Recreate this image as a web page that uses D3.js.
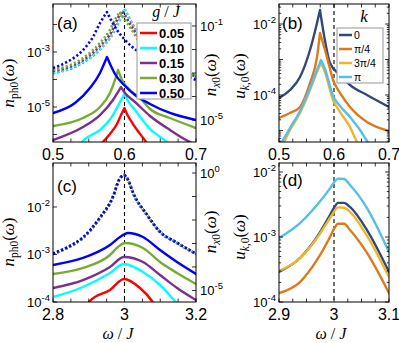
<!DOCTYPE html>
<meta charset="utf-8">
<style>
body { margin: 0; background: #fff; }
svg text { font-family: Arial, "Liberation Sans", Helvetica, sans-serif; fill: #000; }
svg text.tex { font-family: "Liberation Serif", "Times New Roman", serif; }
</style>
<body>
<svg width="399" height="343"></svg>
<script src="https://d3js.org/d3.v7.min.js"></script>
<script>
// ---------- values: [omega/J, value] ----------
var gLabels = ["0.05", "0.10", "0.15", "0.30", "0.50"];
var gColors = ["#ff0000", "#00ffff", "#7e2f8e", "#77ac30", "#0000ff"];
var kLabels = ["0", "\u03c0/4", "3\u03c0/4", "\u03c0"];
var kColors = ["#34497a", "#dc7a1c", "#efb52c", "#56bdec"];

// (a) photon, left axis
var phA005 = [[0.5657,4.2e-7],[0.5699,5.4e-7],[0.5797,1.05e-6],[0.5895,2.4e-6],[0.5951,5.1e-6],[0.6,9.1e-6],[0.6035,5.6e-6],[0.6119,2.4e-6],[0.6217,1.05e-6],[0.6301,5.4e-7],[0.6343,3.8e-7]];
var phA010 = [[0.5378,4.2e-7],[0.5406,5.3e-7],[0.5657,1.46e-6],[0.5839,5.1e-6],[0.5923,1.29e-5],[0.6,2.97e-5],[0.6049,1.65e-5],[0.6147,7.8e-6],[0.6357,1.58e-6],[0.6594,5.3e-7],[0.6636,4.2e-7]];
var phA015 = [[0.5,6.3e-7],[0.542,1.87e-6],[0.5657,5.1e-6],[0.5839,1.8e-5],[0.5909,3.5e-5],[0.5951,5.3e-5],[0.6007,3.2e-5],[0.6147,1.52e-5],[0.6357,4.7e-6],[0.6636,1.46e-6],[0.6916,5.3e-7],[0.7,4.2e-7]];
var phA030 = [[0.5,2.04e-6],[0.542,3.98e-6],[0.5657,1.0e-5],[0.5797,3.23e-5],[0.5867,9.6e-5],[0.5909,2.21e-4],[0.5965,9.6e-5],[0.6077,4.15e-5],[0.6217,2.12e-5],[0.6357,8.45e-6],[0.6636,3.98e-6],[0.7,1.72e-6]];
var phA050 = [[0.5,6.05e-6],[0.5308,1.4e-5],[0.5517,4.91e-5],[0.5657,1.72e-4],[0.5713,3.66e-4],[0.5755,6.58e-4],[0.5811,3.1e-4],[0.5867,1.58e-4],[0.6007,5.81e-5],[0.6147,2.73e-5],[0.6357,1.29e-5],[0.6636,6.05e-6],[0.7,3.37e-6]];
// (a) exciton, right axis (dotted)
var xA005 = [[0.5,9.8e-4],[0.5378,2.38e-3],[0.5657,1.03e-2],[0.5839,4.95e-2],[0.5937,0.197],[0.6,0.53],[0.6056,0.24],[0.6126,0.099],[0.6266,2.07e-2],[0.6503,5.2e-3],[0.6783,1.78e-3],[0.7,7.4e-4]];
var xA010 = [[0.5,1.0e-3],[0.5378,2.41e-3],[0.5657,1.05e-2],[0.5839,5.03e-2],[0.5937,0.199],[0.6,0.528],[0.6056,0.242],[0.6126,0.1],[0.6266,2.09e-2],[0.6503,5.28e-3],[0.6783,1.8e-3],[0.7,7.45e-4]];
var xA015 = [[0.5,1.22e-3],[0.5378,2.94e-3],[0.5657,1.41e-2],[0.5825,6.12e-2],[0.5909,0.219],[0.5965,0.435],[0.6035,0.199],[0.6105,9.06e-2],[0.6245,1.89e-2],[0.6497,4.8e-3],[0.6776,1.63e-3],[0.7,6.76e-4]];
var xA030 = [[0.5,1.34e-3],[0.5378,3.57e-3],[0.5657,1.89e-2],[0.5797,6.76e-2],[0.5881,0.219],[0.5937,0.394],[0.6007,0.18],[0.6077,9.06e-2],[0.6217,1.89e-2],[0.6497,4.35e-3],[0.6776,1.63e-3],[0.7,6.76e-4]];
var xA050 = [[0.5,1.63e-3],[0.5196,2.94e-3],[0.542,9.5e-3],[0.5559,3.4e-2],[0.5657,0.134],[0.5755,0.394],[0.5867,9.06e-2],[0.6007,2.54e-2],[0.6217,7.1e-3],[0.6497,2.19e-3],[0.6776,1.0e-3],[0.7,5.04e-4]];

// (b)
var uB0 = [[0.5,8.2e-5],[0.52,1.38e-4],[0.5382,3.21e-4],[0.5564,1.85e-3],[0.5691,1.07e-2],[0.5745,2.48e-2],[0.5818,4.9e-3],[0.5927,7.96e-4],[0.6109,3.66e-4],[0.6291,1.91e-4],[0.66,1.0e-4],[0.7,4.59e-5]];
var uB1 = [[0.5,2.25e-5],[0.52,3.11e-5],[0.5382,4.59e-5],[0.5564,2.18e-4],[0.5691,1.17e-3],[0.5745,5.57e-3],[0.5873,1.17e-3],[0.5982,2.65e-4],[0.6109,1.14e-4],[0.6291,4.59e-5],[0.66,1.73e-5],[0.7,9.68e-6]];
var uB2 = [[0.5,2.83e-6],[0.5091,4.74e-6],[0.52,1.03e-5],[0.5382,3.11e-5],[0.5564,1.38e-4],[0.5691,4.45e-4],[0.5764,7.96e-4],[0.5836,4.45e-4],[0.5982,7.23e-5],[0.6109,3.32e-5],[0.6291,1.26e-5],[0.6418,4.74e-6],[0.6473,3.43e-6]];
var uB3 = [[0.5,3.43e-6],[0.52,1.17e-5],[0.5382,3.54e-5],[0.5564,1.57e-4],[0.5691,5.06e-4],[0.5764,9.68e-4],[0.5836,5.4e-4],[0.5982,9.37e-5],[0.6109,4.9e-5],[0.6291,2.4e-5],[0.6473,1.03e-5],[0.66,5.06e-6],[0.6691,3.21e-6]];

// (c) photon, left axis
var phC005 = [[2.8979,9.08e-5],[2.9035,1.05e-4],[2.9594,1.79e-4],[2.9986,3.05e-4],[3.0434,1.97e-4],[3.0769,1.05e-4],[3.0825,9.08e-5]];
var phC010 = [[2.8,1.27e-4],[2.8839,2.07e-4],[2.9594,4.08e-4],[2.9986,6.31e-4],[3.0517,4.28e-4],[3.0993,2.28e-4],[3.1413,1.05e-4],[3.1497,9.08e-5]];
var phC015 = [[2.8,1.97e-4],[2.8839,2.9e-4],[2.9594,5.46e-4],[2.9986,8.85e-4],[3.0517,6.95e-4],[3.0993,3.7e-4],[3.1469,1.97e-4],[3.2,1.1e-4]];
var phC030 = [[2.8,3.88e-4],[2.8839,5.2e-4],[2.9594,9.75e-4],[2.9818,1.44e-3],[3.0014,1.75e-3],[3.0517,1.37e-3],[3.0993,6.95e-4],[3.1469,4.08e-4],[3.2,2.39e-4]];
var phC050 = [[2.8,6.01e-4],[2.8839,8.44e-4],[2.9594,1.58e-3],[2.9874,2.33e-3],[3.0098,2.84e-3],[3.0517,2.33e-3],[3.0993,1.24e-3],[3.1469,6.95e-4],[3.2,3.88e-4]];
// (c) exciton, right axis (dotted, nearly identical for all g)
var xC005 = [[2.8,3.57e-4],[2.8392,6.44e-4],[2.8839,1.71e-3],[2.9315,1.22e-2],[2.9678,9.52e-2],[2.9846,0.504],[2.9986,0.822],[3.0098,0.504],[3.0238,0.141],[3.0629,1.63e-2],[3.0993,3.09e-3],[3.1469,1.05e-3],[3.2,3.57e-4]];
var xC010 = xC005;
var xC015 = [[2.8,3.6e-4],[2.8392,6.5e-4],[2.8839,1.73e-3],[2.9315,1.23e-2],[2.9678,9.6e-2],[2.9846,0.5],[2.9986,0.81],[3.0098,0.51],[3.0238,0.143],[3.0629,1.65e-2],[3.0993,3.1e-3],[3.1469,1.06e-3],[3.2,3.6e-4]];
var xC030 = xC015;
var xC050 = [[2.8,3.8e-4],[2.8392,6.9e-4],[2.8839,1.85e-3],[2.9315,1.3e-2],[2.9678,0.1],[2.9846,0.5],[2.9986,0.8],[3.0098,0.52],[3.0238,0.15],[3.0629,1.7e-2],[3.0993,3.2e-3],[3.1469,1.08e-3],[3.2,3.7e-4]];

// (d)
var uD0 = [[2.9,2.9e-4],[2.9382,4.75e-4],[2.9691,1.0e-3],[2.9927,2.18e-3],[3.0,2.8e-3],[3.0073,3.35e-3],[3.0182,3.35e-3],[3.0291,2.9e-3],[3.06,1.28e-3],[3.1,2.9e-4]];
var uD1 = [[2.9,1.37e-4],[2.9382,2.03e-4],[2.9691,4.43e-4],[2.9927,1.0e-3],[3.0,1.33e-3],[3.0073,1.6e-3],[3.0182,1.6e-3],[3.0291,1.28e-3],[3.06,5.68e-4],[3.1,1.37e-4]];
var uD2 = [[2.9,3.0e-4],[2.9382,4.75e-4],[2.9691,9.66e-4],[2.9927,1.96e-3],[3.0,2.45e-3],[3.0073,2.85e-3],[3.0182,2.82e-3],[3.0291,2.43e-3],[3.06,1.04e-3],[3.1,2.42e-4]];
var uD3 = [[2.9,9.66e-4],[2.9382,1.64e-3],[2.9691,3.11e-3],[2.9927,5.6e-3],[3.0,6.9e-3],[3.0073,7.9e-3],[3.0182,7.8e-3],[3.0291,6.31e-3],[3.06,2.79e-3],[3.1,5.88e-4]];

var phA = [phA005, phA010, phA015, phA030, phA050];
var xA = [xA005, xA010, xA015, xA030, xA050];
var phC = [phC005, phC010, phC015, phC030, phC050];
var xC = [xC005, xC010, xC015, xC030, xC050];
var uB = [uB0, uB1, uB2, uB3];
var uD = [uD0, uD1, uD2, uD3];

// ---------- drawing ----------
var svg = d3.select("svg");

function makePanel(id, box, xd, yd) {
  var x = d3.scaleLinear().domain(xd).range([box.x0, box.x1]);
  var y = d3.scaleLog().domain(yd).range([box.y1, box.y0]);
  svg.append("clipPath").attr("id", "clip-" + id).append("rect")
    .attr("x", box.x0).attr("y", box.y0)
    .attr("width", box.x1 - box.x0).attr("height", box.y1 - box.y0);
  var plot = svg.append("g").attr("clip-path", "url(#clip-" + id + ")");
  return { id: id, x: x, y: y, box: box, plot: plot };
}

function pathD(P, y, data, cusp) {
  var gen = d3.line()
    .x(function(d) { return P.x(d[0]); })
    .y(function(d) { return y(d[1]); })
    .curve(d3.curveMonotoneX);
  if (!cusp) return gen(data);
  var i = d3.maxIndex(data, function(d) { return d[1]; });
  return gen(data.slice(0, i + 1)) + gen(data.slice(i)).replace(/^M/, "L");
}

function curve(P, y, data, color, cusp, dotted) {
  var p = P.plot.append("path")
    .attr("d", pathD(P, y, data, cusp))
    .attr("fill", "none")
    .attr("stroke", color)
    .attr("stroke-width", dotted ? 2.6 : 2.4)
    .attr("stroke-linejoin", "round");
  if (dotted) p.attr("stroke-dasharray", "2.2,2.2");
  else p.attr("stroke-linecap", "round");
}

function dashLine(P, v) {
  P.plot.append("line")
    .attr("x1", P.x(v)).attr("x2", P.x(v))
    .attr("y1", P.box.y0).attr("y2", P.box.y1)
    .attr("stroke", "#000").attr("stroke-width", 1.1)
    .attr("stroke-dasharray", "4,3");
}

function tick(x1, y1, x2, y2) {
  svg.append("line").attr("x1", x1).attr("y1", y1).attr("x2", x2).attr("y2", y2)
    .attr("stroke", "#000").attr("stroke-width", 0.8);
}

function powLabel(px, py, e, anchor) {
  var t = svg.append("text").attr("x", px).attr("y", py)
    .attr("text-anchor", anchor).style("font-size", "13px");
  t.append("tspan").text("10");
  t.append("tspan").attr("dy", -6).style("font-size", "9.5px")
    .text(e === 0 ? "0" : "-" + (-e));
}

function frame(P, xTicks, xLabels) {
  var b = P.box;
  svg.append("rect").attr("x", b.x0).attr("y", b.y0)
    .attr("width", b.x1 - b.x0).attr("height", b.y1 - b.y0)
    .attr("fill", "none").attr("stroke", "#000").attr("stroke-width", 1);
  xTicks.forEach(function(v) {
    var px = P.x(v);
    tick(px, b.y1, px, b.y1 - 3.5);
    tick(px, b.y0, px, b.y0 + 3.5);
  });
  xLabels.forEach(function(l) {
    svg.append("text").attr("x", P.x(l[0])).attr("y", b.y1 + 18)
      .attr("text-anchor", "middle").style("font-size", "16px").text(l[1]);
  });
}

function logTicks(P, y, side, minor, labels) {
  var b = P.box, d = y.domain();
  var lo = Math.floor(Math.log10(d[0])), hi = Math.ceil(Math.log10(d[1]));
  var xs = side === "left" ? [b.x0] : side === "right" ? [b.x1] : [b.x0, b.x1];
  for (var e = lo; e <= hi; e++) {
    var ms = minor ? [1, 2, 3, 4, 5, 6, 7, 8, 9] : [1];
    ms.forEach(function(m) {
      var v = m * Math.pow(10, e);
      if (v < d[0] * 0.999 || v > d[1] * 1.001) return;
      var len = m === 1 ? 4 : 2.2, py = y(v);
      xs.forEach(function(ex) {
        var dir = ex === b.x0 ? 1 : -1;
        tick(ex, py, ex + dir * len, py);
      });
    });
  }
  labels.forEach(function(e) {
    var py = y(Math.pow(10, e)) + 5;
    if (side === "right") powLabel(b.x1 + 4, py, e, "start");
    else powLabel(b.x0 - 3, py, e, "end");
  });
}

function texTitle(cx, cy, sym, sub, rotate) {
  var t = svg.append("text").attr("class", "tex")
    .attr("transform", "translate(" + cx + "," + cy + ")" + (rotate ? " rotate(-90)" : ""))
    .attr("text-anchor", "middle").style("font-size", "17px");
  t.append("tspan").style("font-style", "italic").text(sym);
  sub.forEach(function(s, i) {
    var ts = t.append("tspan").style("font-size", "11.5px").text(s[0]);
    if (i === 0) ts.attr("dy", 4);
    if (s[1]) ts.style("font-style", "italic");
  });
  t.append("tspan").attr("dy", -4).text("(");
  t.append("tspan").style("font-style", "italic").text("\u03c9");
  t.append("tspan").text(")");
}

function omegaLabel(cx, cy) {
  var t = svg.append("text").attr("class", "tex").attr("x", cx).attr("y", cy)
    .attr("text-anchor", "middle").style("font-size", "16px");
  t.append("tspan").style("font-style", "italic").text("\u03c9");
  t.append("tspan").text(" / ");
  t.append("tspan").style("font-style", "italic").text("J");
}

function panelLabel(px, py, s) {
  svg.append("text").attr("x", px).attr("y", py).style("font-size", "17px").text(s);
}

// ----- panel (a)
var A = makePanel("a", { x0: 53, x1: 196, y0: 4, y1: 142 }, [0.5, 0.7], [5.33e-7, 0.0556]);
var yAr = d3.scaleLog().domain([1.16e-6, 0.863]).range([142, 4]);
dashLine(A, 0.6);
xA.forEach(function(s, i) { curve(A, yAr, s, gColors[i], true, true); });
phA.forEach(function(s, i) { curve(A, A.y, s, gColors[i], true, false); });
frame(A, d3.range(0, 9).map(function(i) { return 0.5 + i * 0.025; }), [[0.5, "0.5"], [0.6, "0.6"], [0.7, "0.7"]]);
logTicks(A, A.y, "left", false, [-3, -5]);
logTicks(A, yAr, "right", false, [-1, -5]);

// ----- panel (b)
var B = makePanel("b", { x0: 279, x1: 389, y0: 4, y1: 142 }, [0.5, 0.7], [4.74e-6, 0.0366]);
dashLine(B, 0.6);
uB.forEach(function(s, i) { curve(B, B.y, s, kColors[i], true, false); });
frame(B, d3.range(0, 9).map(function(i) { return 0.5 + i * 0.025; }), [[0.5, "0.5"], [0.6, "0.6"], [0.7, "0.7"]]);
logTicks(B, B.y, "both", true, [-2, -4]);

// ----- panel (c)
var C = makePanel("c", { x0: 53, x1: 196, y0: 163, y1: 302 }, [2.8, 3.2], [1e-4, 0.0843]);
var yCr = d3.scaleLog().domain([3.24e-6, 2.67]).range([302, 163]);
dashLine(C, 3.0);
xC.forEach(function(s, i) { curve(C, yCr, s, gColors[i], false, true); });
phC.forEach(function(s, i) { curve(C, C.y, s, gColors[i], false, false); });
frame(C, d3.range(0, 9).map(function(i) { return 2.8 + i * 0.05; }), [[2.8, "2.8"], [3.0, "3"], [3.2, "3.2"]]);
logTicks(C, C.y, "left", false, [-2, -3, -4]);
logTicks(C, yCr, "right", false, [0, -5]);

// ----- panel (d)
var D = makePanel("d", { x0: 279, x1: 389, y0: 163, y1: 302 }, [2.9, 3.1], [1e-4, 0.01374]);
dashLine(D, 3.0);
uD.forEach(function(s, i) { curve(D, D.y, s, kColors[i], false, false); });
frame(D, d3.range(0, 9).map(function(i) { return 2.9 + i * 0.025; }), [[2.9, "2.9"], [3.0, "3"], [3.1, "3.1"]]);
logTicks(D, D.y, "both", true, [-2, -3, -4]);

// ----- legends
var legA = svg.append("g");
legA.append("rect").attr("x", 137).attr("y", 23).attr("width", 54).attr("height", 76)
  .attr("fill", "#fff").attr("stroke", "#a8a8a8").attr("stroke-width", 1.2);
gLabels.forEach(function(t, i) {
  var yy = 33 + i * 15;
  legA.append("line").attr("x1", 140).attr("x2", 157).attr("y1", yy).attr("y2", yy)
    .attr("stroke", gColors[i]).attr("stroke-width", 2.5);
  legA.append("text").attr("x", 159).attr("y", yy + 5)
    .style("font-size", "13px").style("font-weight", "bold").text(t);
});
var gt = svg.append("text").attr("class", "tex").attr("x", 166).attr("y", 17)
  .attr("text-anchor", "middle").style("font-size", "16px");
gt.append("tspan").style("font-style", "italic").text("g");
gt.append("tspan").text(" / ");
gt.append("tspan").style("font-style", "italic").text("J");

var legB = svg.append("g");
legB.append("rect").attr("x", 337).attr("y", 28).attr("width", 46).attr("height", 55)
  .attr("fill", "#fff").attr("stroke", "#a8a8a8").attr("stroke-width", 1.2);
kLabels.forEach(function(t, i) {
  var yy = 35 + i * 14;
  legB.append("line").attr("x1", 339).attr("x2", 352).attr("y1", yy).attr("y2", yy)
    .attr("stroke", kColors[i]).attr("stroke-width", 2.5);
  legB.append("text").attr("x", 354).attr("y", yy + 4).style("font-size", "10.5px").text(t);
});
svg.append("text").attr("class", "tex").attr("x", 364).attr("y", 22)
  .attr("text-anchor", "middle").style("font-size", "17px").style("font-style", "italic").text("k");

// ----- titles and panel letters
texTitle(14, 83, "n", [["ph0", false]], true);
texTitle(14, 242, "n", [["ph0", false]], true);
texTitle(216, 75, "n", [["x", true], ["0", false]], true);
texTitle(216, 232, "n", [["x", true], ["0", false]], true);
texTitle(245, 76, "u", [["k", true], [",0", false]], true);
texTitle(245, 237, "u", [["k", true], [",0", false]], true);
omegaLabel(118, 339);
omegaLabel(331, 339);
panelLabel(57, 29, "(a)");
panelLabel(282, 29, "(b)");
panelLabel(57, 192, "(c)");
panelLabel(282, 186, "(d)");
</script>
</body>
